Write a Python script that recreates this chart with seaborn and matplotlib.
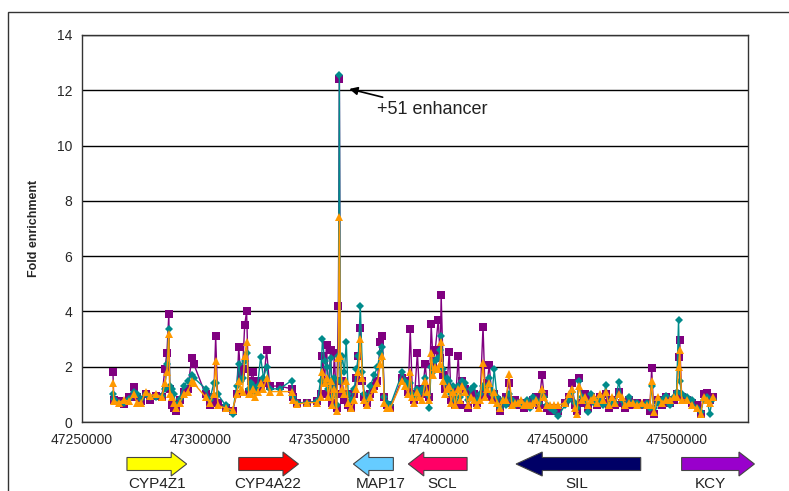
import matplotlib
matplotlib.use("Agg")
import matplotlib.pyplot as plt
import matplotlib.transforms as mtransforms
from matplotlib.patches import Polygon, Rectangle
import seaborn as sns
import pandas as pd

# ---------------- data ----------------
positions = [
    47263000, 47263400, 47265500, 47267600, 47269700, 47271800, 47273100, 47274800, 47276800, 47278500,
    47281000, 47283600, 47284800, 47285700, 47286500, 47286900, 47287800, 47288600, 47289400, 47291100,
    47292800, 47294500, 47296100, 47297000, 47302000, 47303700, 47305400, 47306200, 47307100, 47310400,
    47313300, 47315000, 47315900, 47316700, 47317500, 47318400, 47319200, 47320100, 47320900, 47321700,
    47322600, 47323800, 47325100, 47326300, 47327600, 47328900, 47333100, 47338100, 47338900, 47340600,
    47344800, 47349000, 47350300, 47351100, 47352000, 47352800, 47353600, 47354500, 47355300, 47356100,
    47357000, 47357800, 47358200, 47358600, 47359400, 47360300, 47361100, 47361900, 47363300, 47364500,
    47365400, 47366200, 47367000, 47367900, 47368700, 47370000, 47371200, 47372900, 47374200, 47375400,
    47376300, 47377100, 47378400, 47379600, 47384700, 47385900, 47387200, 47388000, 47388900, 47389700,
    47391000, 47391800, 47393100, 47394300, 47395200, 47396000, 47396800, 47397700, 47398500, 47399800,
    47400600, 47401000, 47401900, 47402700, 47403600, 47404400, 47405200, 47406100, 47406900, 47408200,
    47409000, 47409800, 47411100, 47412300, 47413600, 47414900, 47416100, 47417400, 47418600, 47419500,
    47420300, 47421200, 47422400, 47423300, 47424500, 47425800, 47427000, 47428300, 47429500, 47430800,
    47432100, 47433300, 47434600, 47435800, 47437100, 47438400, 47439600, 47440900, 47442100, 47443400,
    47444200, 47445500, 47446700, 47448400, 47450100, 47453000, 47454700, 47456000, 47457200, 47458100,
    47458900, 47460200, 47461400, 47462700, 47463900, 47465200, 47466500, 47467700, 47469000, 47470200,
    47471500, 47472800, 47474000, 47475700, 47477000, 47478200, 47479900, 47481600, 47483200, 47485300,
    47487400, 47488700, 47489500, 47490400, 47492000, 47493700, 47495400, 47497100, 47498800, 47500000,
    47500800, 47501300, 47502100, 47504200, 47506300, 47508400, 47510100, 47511300, 47512600, 47513900,
    47515100,
]

purple = [
    1.8, 0.8, 0.75, 0.65, 0.9, 1.25, 0.9, 0.75, 1.0, 0.8,
    0.95, 0.9, 1.9, 2.5, 3.9, 1.2, 0.6, 0.5, 0.4, 0.8,
    1.1, 1.2, 2.3, 2.1, 1.0, 0.6, 0.9, 3.1, 0.7, 0.5,
    0.4, 1.0, 2.7, 1.7, 1.9, 3.5, 4.0, 1.1, 1.5, 1.8,
    1.3, 1.5, 1.2, 1.4, 2.6, 1.3, 1.3, 1.2, 0.9, 0.7,
    0.7, 0.75, 1.0, 2.4, 1.5, 2.8, 1.0, 2.6, 0.7, 2.5,
    0.5, 4.2, 12.4, 1.0, 1.5, 0.8, 1.0, 0.6, 0.5, 1.0,
    1.6, 2.4, 3.4, 1.5, 0.9, 0.7, 1.0, 1.3, 1.5, 2.9,
    3.1, 0.9, 0.6, 0.5, 1.6, 1.5, 1.1, 3.35, 1.0, 0.8,
    2.5, 1.2, 1.0, 2.1, 1.2, 0.9, 3.55, 2.0, 2.6, 3.7,
    2.3, 4.6, 1.7, 1.2, 1.5, 2.55, 0.8, 1.2, 0.6, 2.4,
    0.6, 1.5, 1.2, 0.5, 1.1, 1.0, 0.7, 0.9, 3.45, 1.0,
    1.4, 2.05, 0.9, 1.0, 0.8, 0.4, 0.7, 0.9, 1.4, 0.7,
    0.8, 0.6, 0.7, 0.5, 0.7, 0.6, 0.8, 0.9, 0.6, 1.7,
    1.0, 0.5, 0.4, 0.5, 0.4, 0.7, 0.9, 1.4, 0.6, 0.4,
    1.6, 0.7, 1.0, 0.5, 0.9, 0.8, 0.6, 0.9, 0.7, 1.0,
    0.5, 0.8, 0.6, 1.1, 0.7, 0.5, 0.8, 0.6, 0.7, 0.6,
    0.7, 0.4, 1.95, 0.3, 0.8, 0.6, 0.9, 0.7, 0.8, 1.0,
    2.35, 2.95, 0.9, 0.8, 0.7, 0.6, 0.3, 1.0, 1.05, 0.8,
    0.9,
]

teal = [
    1.0, 0.85, 0.7, 0.7, 0.85, 1.1, 1.0, 0.85, 1.0, 0.9,
    0.9, 0.95, 1.2, 2.1, 3.35, 1.3, 1.2, 1.0, 0.6, 0.85,
    1.3, 1.5, 1.7, 1.6, 1.2, 0.8, 1.4, 1.4, 1.0, 0.6,
    0.3, 1.3, 2.1, 1.5, 1.6, 2.2, 2.5, 1.2, 1.4, 1.3,
    1.1, 1.3, 2.35, 1.6, 2.0, 1.2, 1.2, 1.5, 0.9, 0.7,
    0.7, 0.75, 1.5, 3.0, 2.2, 2.0, 1.2, 2.3, 0.9, 1.6,
    0.6, 2.4, 12.55, 1.5, 2.4, 1.8, 2.9, 1.0, 0.8, 1.2,
    1.9, 2.4, 4.2, 1.8, 1.0, 0.8, 1.3, 1.7, 2.0, 2.5,
    2.7, 0.9, 0.7, 0.6, 1.8, 1.5, 1.3, 1.4, 1.0, 0.9,
    1.2, 1.0, 1.2, 1.6, 1.0, 0.5, 2.0, 1.8, 2.2, 2.3,
    2.6, 3.1, 1.9, 1.4, 1.6, 1.5, 1.0, 1.3, 0.8, 1.3,
    0.9, 1.5, 1.4, 0.8, 1.2, 1.3, 0.8, 1.0, 1.3, 1.2,
    1.3, 1.6, 1.0, 1.9, 0.9, 0.5, 0.8, 0.6, 1.0, 0.8,
    0.6, 0.7, 0.6, 0.6, 0.8, 0.5, 0.9, 0.8, 0.7, 1.1,
    0.9, 0.6, 0.5, 0.4, 0.2, 0.6, 0.8, 1.1, 0.7, 0.5,
    1.5, 0.9, 0.8, 0.35, 1.0, 0.7, 0.8, 0.8, 0.6, 1.35,
    0.6, 0.7, 0.7, 1.45, 0.8, 0.6, 0.9, 0.7, 0.7, 0.6,
    0.7, 0.5, 1.3, 0.5, 0.7, 0.8, 0.95, 0.6, 0.9, 1.1,
    3.7, 1.5, 1.0, 0.9, 0.8, 0.5, 0.35, 0.8, 0.9, 0.3,
    0.85,
]

orange = [
    1.4, 0.75, 0.7, 0.8, 0.75, 1.0, 0.7, 0.7, 1.1, 0.95,
    1.0, 0.9, 1.4, 1.8, 3.2, 1.0, 0.9, 0.7, 0.5, 0.7,
    1.0, 1.1, 1.5, 1.4, 0.9, 0.7, 1.0, 2.2, 0.6, 0.5,
    0.45, 1.0, 1.5, 1.2, 1.1, 2.4, 2.9, 1.0, 1.0, 1.2,
    0.9, 1.1, 1.4, 1.2, 1.6, 1.1, 1.1, 1.1, 0.8, 0.65,
    0.7, 0.7, 0.9, 1.8, 1.4, 1.6, 0.9, 1.5, 0.6, 1.2,
    0.4, 2.3, 7.4, 2.4, 1.2, 1.0, 1.5, 0.7, 0.5, 0.8,
    1.2, 1.8, 3.0, 1.6, 0.8, 0.6, 0.9, 1.2, 1.4, 2.1,
    2.4, 0.7, 0.5, 0.5, 1.5, 1.3, 1.0, 1.8, 0.9, 0.7,
    1.1, 0.9, 0.8, 1.5, 1.1, 0.8, 2.5, 1.7, 2.0, 1.9,
    2.1, 2.9, 1.5, 1.0, 1.2, 1.3, 0.7, 1.1, 0.6, 1.2,
    0.8, 1.3, 1.1, 0.6, 0.9, 0.8, 0.6, 0.8, 2.15, 0.9,
    1.2, 1.4, 0.8, 1.1, 0.7, 0.5, 0.8, 0.8, 1.75, 0.6,
    0.7, 0.7, 0.8, 0.6, 0.7, 0.6, 0.7, 0.8, 0.5, 1.2,
    0.9, 0.6, 0.6, 0.6, 0.6, 0.7, 1.0, 1.2, 0.5, 0.3,
    1.3, 0.8, 0.9, 0.6, 0.8, 0.9, 0.7, 1.0, 0.8, 1.1,
    0.6, 0.9, 0.7, 1.0, 0.9, 0.6, 0.7, 0.7, 0.6, 0.7,
    0.6, 0.6, 1.5, 0.35, 0.9, 0.7, 0.8, 0.8, 0.9, 0.9,
    2.0, 2.6, 0.8, 0.8, 0.6, 0.5, 0.3, 0.9, 0.8, 0.7,
    0.9,
]

x_ticks = [47250000, 47300000, 47350000, 47400000, 47450000, 47500000]
y_ticks = [0, 2, 4, 6, 8, 10, 12, 14]

genes = ["CYP4Z1", "CYP4A22", "MAP17", "SCL", "SIL", "KCY"]
gene_start = [47268900, 47315900, 47380900, 47411900, 47484900, 47502100]
gene_end = [47294000, 47341000, 47364100, 47387200, 47432500, 47532700]
gene_colors = ["#FFFF00", "#FF0000", "#66CCFF", "#FF0066", "#000066", "#9900CC"]
gene_label_x = [47281500, 47328000, 47375400, 47401400, 47458100, 47514300]

annot_text = "+51 enhancer"
annot_xy = (47362400, 12.05)
annot_text_xy = (47374200, 11.3)

# ---------------- figure ----------------
sns.set_style("white")
plt.rcParams['font.family'] = ['Liberation Sans', 'DejaVu Sans']

fig = plt.figure(figsize=(7.89, 4.91), dpi=100)
ax = fig.add_axes([82 / 789, 1 - 422 / 491, (748 - 82) / 789, (422 - 35) / 491])

df = pd.DataFrame({"pos": positions, "purple": purple, "teal": teal, "orange": orange})

sns.lineplot(data=df, x="pos", y="purple", ax=ax, color="#800080", marker="s",
             markersize=6.3, markeredgewidth=0, linewidth=1.0, zorder=3)
sns.lineplot(data=df, x="pos", y="teal", ax=ax, color="#008B8B", marker="D",
             markersize=4.3, markeredgewidth=0, linewidth=1.0, zorder=4)
sns.lineplot(data=df, x="pos", y="orange", ax=ax, color="#FF9900", marker="^",
             markersize=6.0, markeredgewidth=0, linewidth=1.0, zorder=5)

ax.set_xlim(47250000, 47530000)
ax.set_ylim(0, 14)
ax.set_xticks(x_ticks)
ax.set_xticklabels([str(t) for t in x_ticks], fontsize=10)
ax.set_yticks(y_ticks)
ax.set_yticklabels([str(t) for t in y_ticks], fontsize=10)
ax.yaxis.grid(True, color="black", linewidth=1.0)
ax.set_axisbelow(True)
ax.tick_params(axis="both", direction="out", length=4, width=1, color="black", pad=3)
ax.tick_params(axis="x", pad=4)
for s in ax.spines.values():
    s.set_color("#333333")
    s.set_linewidth(1.0)
ax.set_xlabel("")
ax.set_ylabel("Fold enrichment", fontsize=9, fontweight="bold", labelpad=12)

ax.annotate(annot_text, xy=annot_xy, xytext=annot_text_xy, fontsize=13,
            color="#222222", va="center", ha="left",
            arrowprops=dict(arrowstyle="-|>", color="black", lw=1.2,
                            mutation_scale=12, shrinkA=2, shrinkB=0))

# gene arrows below the axis (x in data units, y in axes fraction)
trans = mtransforms.blended_transform_factory(ax.transData, ax.transAxes)
yc = (422 - 464) / 387.0
body = 6.5 / 387.0
head = 12 / 387.0
for name, s, e, c, lx in zip(genes, gene_start, gene_end, gene_colors, gene_label_x):
    length = abs(e - s)
    hl = 6500 if length < 40000 else 11000
    d = 1 if e > s else -1
    neck = e - d * hl
    pts = [(s, yc - body), (neck, yc - body), (neck, yc - head), (e, yc),
           (neck, yc + head), (neck, yc + body), (s, yc + body)]
    poly = Polygon(pts, closed=True, transform=trans, facecolor=c,
                   edgecolor="#444444", linewidth=0.8, clip_on=False)
    ax.add_patch(poly)
    ax.text(lx, (422 - 484) / 387.0, name, transform=trans, ha="center",
            va="center", fontsize=11, color="#222222", clip_on=False)

# outer chart border
fig.add_artist(Rectangle((8 / 789, -0.2), 1.0, 1 - 12 / 491 + 0.2,
                         transform=fig.transFigure, fill=False,
                         edgecolor="#333333", linewidth=1.0, clip_on=False))

fig.savefig("out.png", dpi=100)
